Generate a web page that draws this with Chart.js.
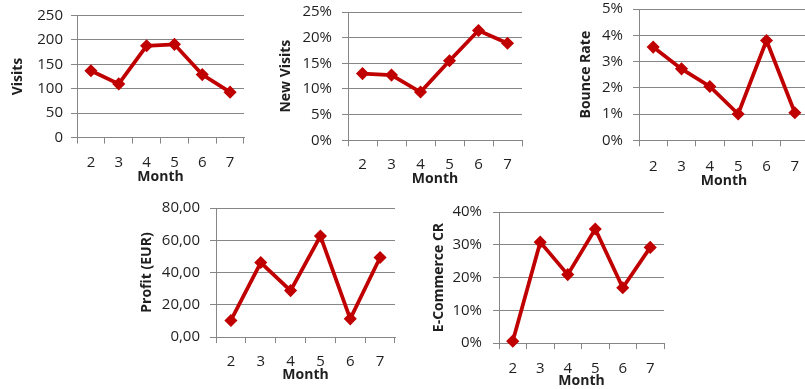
<!DOCTYPE html>
<html>
<head>
<meta charset="utf-8">
<script src="https://cdn.jsdelivr.net/npm/chart.js@4.4.1/dist/chart.umd.min.js"></script>
<style>
  html, body { margin: 0; padding: 0; background: #ffffff; overflow: hidden; width: 805px; height: 389px; }
  canvas { position: absolute; }
</style>
</head>
<body>
<canvas id="visits"></canvas>
<canvas id="newVisits"></canvas>
<canvas id="bounce"></canvas>
<canvas id="profit"></canvas>
<canvas id="ecommerce"></canvas>
<script>
// Monthly web analytics, months 2 to 7
const months = ['2', '3', '4', '5', '6', '7'];

const visits = [137, 110, 188, 191, 129, 93];
const newVisitsPct = [13.0, 12.7, 9.4, 15.5, 21.4, 18.9];
const bounceRatePct = [3.55, 2.72, 2.05, 1.0, 3.8, 1.05];
const profitEur = [10.3, 46.2, 28.8, 62.6, 11.3, 49.3];
const ecommerceCrPct = [0.6, 30.8, 20.9, 34.8, 16.9, 29.2];

const xTitle = 'Month';

// Panel placement on the page (pixels)
const panels = {
  visits:    { plotLeft: 77,  plotRight: 247, plotTop: 15.5, plotBottom: 138,   titleX: 18,  monthY: 177,   yPad: 8,  xPad: 10.5, rowTop: -10 },
  newVisits: { plotLeft: 348, plotRight: 525, plotTop: 12,   plotBottom: 140,   titleX: 286, monthY: 178.3, yPad: 10, xPad: 9.5,  rowTop: -10 },
  bounce:    { plotLeft: 639, plotRight: 812, plotTop: 8,    plotBottom: 140,   titleX: 586, monthY: 180.3, yPad: 10, xPad: 11.5, rowTop: -10 },
  profit:    { plotLeft: 216, plotRight: 398, plotTop: 208,  plotBottom: 337.3, titleX: 147, monthY: 374.8, yPad: 10, xPad: 10,   rowTop: 180 },
  ecommerce: { plotLeft: 499, plotRight: 667, plotTop: 212,  plotBottom: 343.3, titleX: 439, monthY: 380.8, yPad: 11, xPad: 11,   rowTop: 180 }
};

const RED = '#C00000';
const GRID = '#868686';
const TEXT = '#1f1f1f';
const TICK_FONT = { family: '"Open Sans", sans-serif', size: 15 };
const TITLE_FONT = { family: '"Open Sans", sans-serif', size: 14, weight: 'bold', lineHeight: 1.2 };
const TITLE_HALF = 14 * 1.2 / 2;

const pct = v => v + '%';
const eur = v => v.toFixed(2).replace('.', ',');
const plain = v => String(v);

function makePanel(id, values, yMax, yStep, fmt, yTitle) {
  const p = panels[id];
  const left = Math.round(p.titleX - TITLE_HALF);
  const top = p.rowTop;
  const rightPad = 4;
  const width = Math.round(p.plotRight - left + rightPad);
  const xHeight = p.monthY + TITLE_HALF - p.plotBottom;
  const height = Math.round(p.plotBottom + xHeight - top);

  const canvas = document.getElementById(id);
  canvas.width = width;
  canvas.height = height;
  canvas.style.left = left + 'px';
  canvas.style.top = top + 'px';
  canvas.style.width = width + 'px';
  canvas.style.height = height + 'px';

  return new Chart(canvas, {
    type: 'line',
    data: {
      labels: months,
      datasets: [{
        data: values,
        borderColor: RED,
        backgroundColor: RED,
        borderWidth: 3.75,
        pointStyle: 'rectRot',
        pointRadius: 5.5,
        pointBorderWidth: 1.5,
        pointBorderColor: RED,
        pointBackgroundColor: RED,
        tension: 0,
        clip: false
      }]
    },
    options: {
      responsive: false,
      animation: false,
      devicePixelRatio: 1,
      layout: {
        padding: { left: 0, top: p.plotTop - top, right: width - (p.plotRight - left), bottom: 0 }
      },
      plugins: { legend: { display: false }, tooltip: { enabled: false } },
      scales: {
        x: {
          type: 'category',
          offset: true,
          grid: { offset: true, drawOnChartArea: false, drawTicks: true, tickLength: 6, color: GRID, lineWidth: 1 },
          border: { display: true, color: GRID, width: 1 },
          ticks: { color: TEXT, font: TICK_FONT, padding: p.xPad, maxRotation: 0, autoSkip: false },
          title: { display: true, text: xTitle, color: TEXT, font: TITLE_FONT, padding: { top: 0, bottom: 0 } },
          afterFit: s => { s.height = xHeight; }
        },
        y: {
          min: 0,
          max: yMax,
          grid: { drawTicks: true, tickLength: 6, color: GRID, lineWidth: 1 },
          border: { display: true, color: GRID, width: 1 },
          ticks: { stepSize: yStep, color: TEXT, font: TICK_FONT, padding: p.yPad, callback: fmt },
          title: { display: true, text: yTitle, color: TEXT, font: TITLE_FONT, padding: { top: 0, bottom: 0 } },
          afterFit: s => { s.width = p.plotLeft - left; }
        }
      }
    }
  });
}

makePanel('visits', visits, 250, 50, plain, 'Visits');
makePanel('newVisits', newVisitsPct, 25, 5, pct, 'New Visits');
makePanel('bounce', bounceRatePct, 5, 1, pct, 'Bounce Rate');
makePanel('profit', profitEur, 80, 20, eur, 'Profit (EUR)');
makePanel('ecommerce', ecommerceCrPct, 40, 10, pct, 'E-Commerce CR');
</script>
</body>
</html>
